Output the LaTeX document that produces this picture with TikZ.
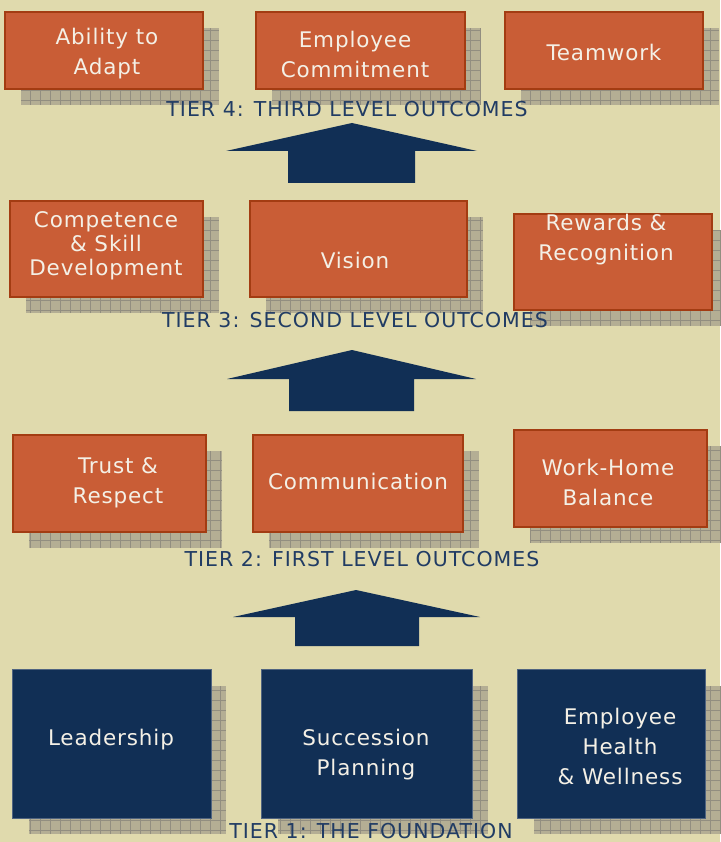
\documentclass[tikz,border=0pt]{standalone}
\usepackage{fontspec}
\newfontfamily\boxfont[LetterSpace=4]{DejaVu Sans}
\newfontfamily\tierfont[LetterSpace=5]{DejaVu Sans}
\definecolor{paper}{RGB}{224,218,173}
\definecolor{rust}{RGB}{201,93,54}
\definecolor{rustedge}{RGB}{163,60,18}
\definecolor{navy}{RGB}{17,47,85}
\definecolor{navyedge}{RGB}{80,100,128}
\definecolor{tierink}{RGB}{33,60,100}
\definecolor{shadefill}{RGB}{180,174,148}
\definecolor{shadeline}{RGB}{146,142,128}
\definecolor{boxink}{RGB}{244,240,230}
\begin{document}
\begin{tikzpicture}[x=1pt,y=-1pt,
  shade/.style={fill=shadefill},
  shadegrid/.style={draw=shadeline,line width=0.7pt,step=10pt},
  obox/.style={fill=rust,draw=rustedge,line width=1.5pt},
  nbox/.style={fill=navy,draw=navyedge,line width=0.8pt},
  btext/.style={text=boxink,align=center,font=\boxfont\fontsize{21.5}{30}\selectfont},
  tier/.style={text=tierink,font=\tierfont\fontsize{20.5}{24}\selectfont},
  uparrow/.style={fill=navy}]
\useasboundingbox (0,0) rectangle (720,842);
\fill[paper] (0,0) rectangle (720,842);
% shadows
\fill[shade] (21,28) rectangle (219,105);
\draw[shadegrid] (21,28) grid (219,105);
\fill[shade] (272,28) rectangle (481,105);
\draw[shadegrid] (272,28) grid (481,105);
\fill[shade] (521,28) rectangle (719,105);
\draw[shadegrid] (521,28) grid (719,105);
\fill[shade] (26,217) rectangle (219,313);
\draw[shadegrid] (26,217) grid (219,313);
\fill[shade] (266,217) rectangle (483,313);
\draw[shadegrid] (266,217) grid (483,313);
\fill[shade] (530,230) rectangle (728,326);
\draw[shadegrid] (530,230) grid (728,326);
\fill[shade] (29,451) rectangle (222,548);
\draw[shadegrid] (29,451) grid (222,548);
\fill[shade] (269,451) rectangle (479,548);
\draw[shadegrid] (269,451) grid (479,548);
\fill[shade] (530,446) rectangle (723,543);
\draw[shadegrid] (530,446) grid (723,543);
\fill[shade] (29,686) rectangle (226,834);
\draw[shadegrid] (29,686) grid (226,834);
\fill[shade] (278,686) rectangle (488,834);
\draw[shadegrid] (278,686) grid (488,834);
\fill[shade] (534,686) rectangle (722,834);
\draw[shadegrid] (534,686) grid (722,834);
% tier 4
\draw[obox] (5,12) rectangle (203,89);
\draw[obox] (256,12) rectangle (465,89);
\draw[obox] (505,12) rectangle (703,89);
\node[btext] (adapt) at (107,54) {Ability to\\Adapt};
\node[btext] (commit) at (355,54) {Employee\\Commitment};
\node[btext] (team) at (604,52) {Teamwork};
\node[tier] (tierfour) at (347,109) {TIER 4: THIRD LEVEL OUTCOMES};
\fill[uparrow] (226,151) -- (352,123) -- (477,151) -- (415,151) -- (415,183) -- (288,183) -- (288,151) -- cycle;
% tier 3
\draw[obox] (10,201) rectangle (203,297);
\draw[obox] (250,201) rectangle (467,297);
\draw[obox] (514,214) rectangle (712,310);
\node[btext,font=\boxfont\fontsize{21.5}{24}\selectfont] (skill) at (106,246) {Competence\\\& Skill\\Development};
\node[btext] (vision) at (355,260) {Vision};
\node[btext] (reward) at (606,240) {Rewards \&\\Recognition};
\node[tier] (tierthree) at (355,320) {TIER 3: SECOND LEVEL OUTCOMES};
\fill[uparrow] (227,379) -- (352,350) -- (476,379) -- (414,379) -- (414,411) -- (289,411) -- (289,379) -- cycle;
% tier 2
\draw[obox] (13,435) rectangle (206,532);
\draw[obox] (253,435) rectangle (463,532);
\draw[obox] (514,430) rectangle (707,527);
\node[btext] (trust) at (118,483) {Trust \&\\Respect};
\node[btext] (comm) at (358,481) {Communication};
\node[btext] (balance) at (608,482) {Work-Home\\Balance};
\node[tier] (tiertwo) at (362,559) {TIER 2: FIRST LEVEL OUTCOMES};
\fill[uparrow] (233,617) -- (356,590) -- (480,617) -- (419,617) -- (419,646) -- (295,646) -- (295,617) -- cycle;
% tier 1
\draw[nbox] (12,669) rectangle (211,818);
\draw[nbox] (261,669) rectangle (472,818);
\draw[nbox] (517,669) rectangle (705,818);
\node[btext] (lead) at (111,740) {Leadership};
\node[btext] (succession) at (366,755) {Succession\\Planning};
\node[btext] (health) at (620,746) {Employee\\Health\\\& Wellness};
\node[tier] (tierone) at (371,831) {TIER 1: THE FOUNDATION};
\end{tikzpicture}
\end{document}
